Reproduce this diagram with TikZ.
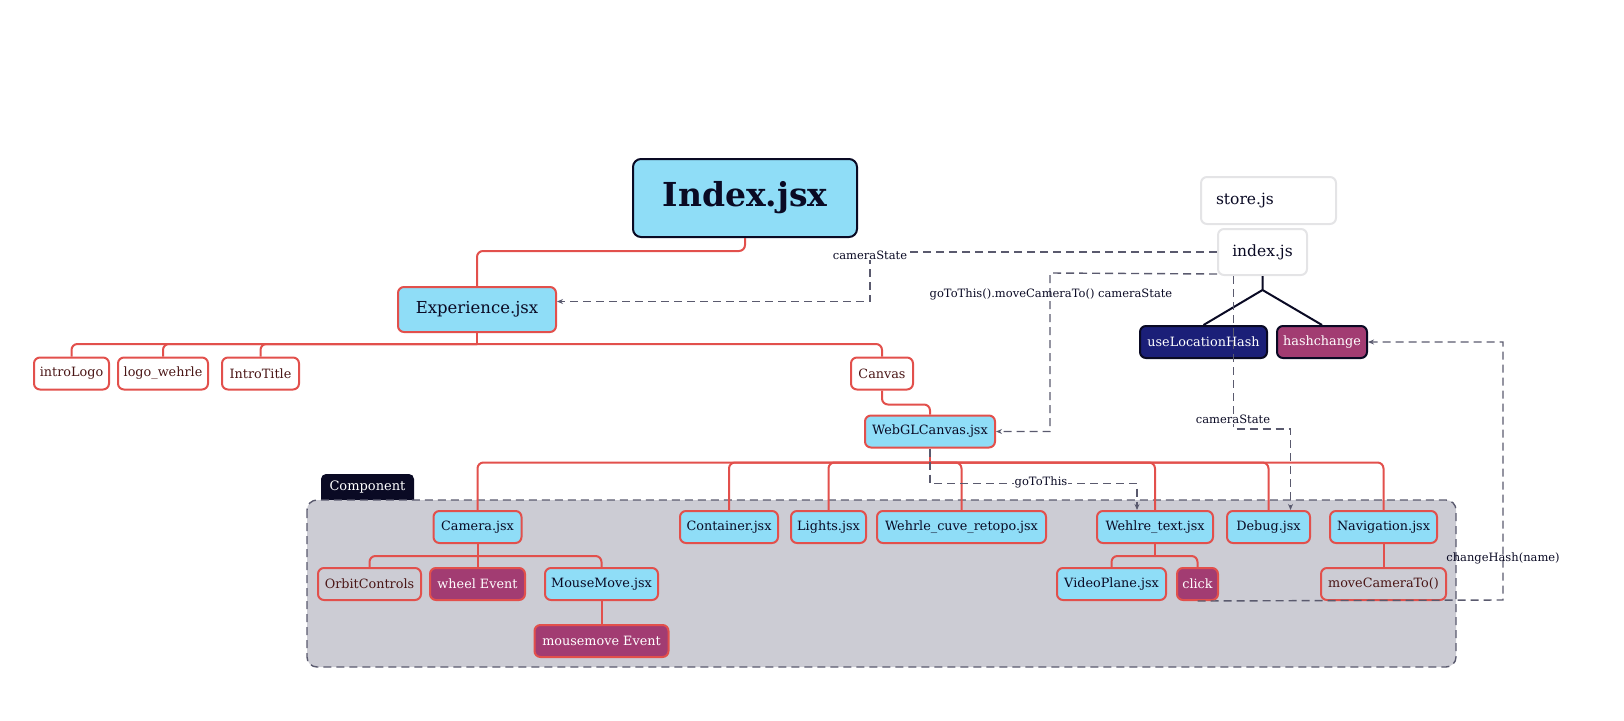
\documentclass[tikz,border=0pt]{standalone}
\usepackage{fontspec}
\setmainfont{DejaVu Serif}
\usepackage{xcolor}
\usepackage{tikz}
\usetikzlibrary{arrows.meta,positioning,calc}
\definecolor{jsxblue}{HTML}{8FDDF7}
\definecolor{edgered}{HTML}{E2504C}
\definecolor{evmag}{HTML}{A23C72}
\definecolor{hooknavy}{HTML}{1B1F78}
\definecolor{ink}{HTML}{0A0A24}
\definecolor{grpgray}{HTML}{CCCCD4}
\definecolor{dashgray}{HTML}{5A5A6E}
\definecolor{reftext}{HTML}{4A1616}
\definecolor{storegray}{HTML}{E4E4E6}
\newcommand{\lblsize}{\fontsize{12.8}{15}\selectfont}
\newcommand{\flowsize}{\fontsize{11.5}{13}\selectfont}

\begin{document}
\begin{tikzpicture}[x=1pt, y=-1pt, >={Stealth[length=6pt,width=5pt]},
    nodebox/.style={draw=edgered, line width=2pt, rounded corners=6pt, minimum height=32pt, inner xsep=2pt, font=\lblsize},
    jsxbox/.style={nodebox, fill=jsxblue, text=ink},
    refbox/.style={nodebox, text=reftext},
    eventbox/.style={nodebox, fill=evmag, text=white},
    hookbox/.style={draw=ink, line width=2pt, rounded corners=6pt, minimum height=32pt, inner xsep=2pt, font=\lblsize, text=white},
    storebox/.style={draw=storegray, fill=white, line width=2pt, rounded corners=6pt, text=ink, font=\fontsize{15.5}{18}\selectfont},
    treeline/.style={edgered, line width=2pt, rounded corners=6pt},
    flowline/.style={dashgray, line width=1.4pt, dash pattern=on 8pt off 5pt, ->},
    flowlabel/.style={font=\flowsize, text=ink, inner sep=1pt}
]
    \useasboundingbox (0,0) rectangle (1624,720);

    % Component group
    \fill[ink, rounded corners=5pt] (321,508) rectangle (414,474);
    \draw[dashgray, fill=grpgray, line width=1.4pt, dash pattern=on 8pt off 5pt, rounded corners=10pt] (307,500) rectangle (1456,667);
    \node[text=white, font=\fontsize{13}{15}\selectfont] (comptab) at (367.5,487) {Component};

    % Top level
    \node[jsxbox, draw=ink, rounded corners=8pt, minimum width=224pt, minimum height=78pt, font=\fontsize{33}{40}\selectfont\bfseries] (index) at (745,198) {Index.jsx};
    \node[storebox, text width=105pt, inner xsep=15pt, minimum height=47pt, align=left] (store) at (1268.5,200.5) {store.js};
    \node[storebox, minimum width=89pt, minimum height=46pt] (idxjs) at (1262.5,252) {index.js};
    \node[jsxbox, minimum width=158pt, minimum height=45pt, font=\fontsize{16.5}{19}\selectfont] (exp) at (477,309.5) {Experience.jsx};

    % Experience children
    \node[refbox, minimum width=75pt] (introlog) at (71.5,373.5) {introLogo};
    \node[refbox, minimum width=90pt] (logow) at (163,373.5) {logo\_wehrle};
    \node[refbox, minimum width=77pt] (introtitle) at (260.5,373.5) {IntroTitle};
    \node[refbox, minimum width=62pt] (canvas) at (882,373.5) {Canvas};
    \node[jsxbox, minimum width=130pt] (webgl) at (930,431.5) {WebGLCanvas.jsx};

    % Components
    \node[jsxbox, minimum width=88pt] (camera) at (477.5,527) {Camera.jsx};
    \node[jsxbox, minimum width=98pt] (container) at (729,527) {Container.jsx};
    \node[jsxbox, minimum width=75pt] (lights) at (828.5,527) {Lights.jsx};
    \node[jsxbox, minimum width=169pt] (cuve) at (961.5,527) {Wehrle\_cuve\_retopo.jsx};
    \node[jsxbox, minimum width=116pt] (wtext) at (1155,527) {Wehlre\_text.jsx};
    \node[jsxbox, minimum width=83pt] (debug) at (1268.5,527) {Debug.jsx};
    \node[jsxbox, minimum width=107pt] (nav) at (1383.5,527) {Navigation.jsx};

    \node[refbox, minimum width=103pt] (orbit) at (369.5,584) {OrbitControls};
    \node[eventbox, minimum width=95pt] (wheel) at (477.5,584) {wheel Event};
    \node[jsxbox, minimum width=113pt] (mmove) at (601.5,584) {MouseMove.jsx};
    \node[eventbox, minimum width=134pt] (mmevent) at (601.5,641) {mousemove Event};
    \node[jsxbox, minimum width=109pt] (vplane) at (1111.5,584) {VideoPlane.jsx};
    \node[eventbox, minimum width=41pt] (click) at (1197.5,584) {click};
    \node[refbox, minimum width=125pt] (movecam) at (1383.5,584) {moveCameraTo()};

    % store hooks
    \node[hookbox, fill=hooknavy, minimum width=127pt] (ulh) at (1203.5,342) {useLocationHash};
    \node[hookbox, fill=evmag, minimum width=90pt] (hash) at (1322,342) {hashchange};

    % Tree
    \draw[treeline] (index.south) -- ++(0,13) -| (exp.north);
    \coordinate (expbus) at ([yshift=-11pt]exp.south);
    \draw[treeline] (exp.south) -- (expbus);
    \foreach \n in {introlog,logow,introtitle,canvas}
        \draw[treeline] (expbus) -| (\n.north);
    \draw[treeline] (canvas.south) -- ++(0,14) -| (webgl.north);
    \coordinate (webbus) at ([yshift=-14pt]webgl.south);
    \draw[treeline] (webgl.south) -- (webbus);
    \foreach \n in {camera,container,lights,cuve,wtext,debug,nav}
        \draw[treeline] (webbus) -| (\n.north);
    \coordinate (cambus) at ([yshift=-12pt]camera.south);
    \draw[treeline] (camera.south) -- (cambus);
    \foreach \n in {orbit,wheel,mmove}
        \draw[treeline] (cambus) -| (\n.north);
    \draw[treeline] (mmove.south) -- (mmevent.north);
    \coordinate (wtbus) at ([yshift=-12pt]wtext.south);
    \draw[treeline] (wtext.south) -- (wtbus);
    \foreach \n in {vplane,click}
        \draw[treeline] (wtbus) -| (\n.north);
    \draw[treeline] (nav.south) -- (movecam.north);

    % index.js fork
    \coordinate (fork) at ([yshift=-14pt]idxjs.south);
    \draw[ink, line width=2pt] (idxjs.south) -- (fork) (fork) -- (ulh.north) (fork) -- (hash.north);

    % Data flow
    \coordinate (camturn) at (870,252);
    \draw[flowline] (idxjs.west) -- (camturn) |- ([yshift=8pt]exp.east);
    \node[flowlabel, fill=white] (camlbl) at (870,255) {cameraState};

    \coordinate (gototurn) at (1050,273);
    \draw[flowline] ([yshift=2pt]idxjs.south west) -- (gototurn) |- (webgl.east);
    \node[flowlabel] (gotolbl) at (1051,294) {goToThis().moveCameraTo() cameraState};

    \draw[flowline] ([xshift=-29pt]idxjs.south) -- ++(0,153) -| ([xshift=22pt]debug.north);
    \node[flowlabel, fill=white] (statelbl) at (1233,419) {cameraState};

    \draw[flowline] (webgl.south) -- ++(0,35) -| ([xshift=-18pt]wtext.north);
    \node[flowlabel, fill=white] (gotothis) at (1041,482) {goToThis};

    \coordinate (hashturn) at (1503,600);
    \draw[flowline] (click.south) -- (hashturn) |- (hash.east);
    \node[flowlabel] (hashlbl) at (1503,558) {changeHash(name)};
\end{tikzpicture}
\end{document}
